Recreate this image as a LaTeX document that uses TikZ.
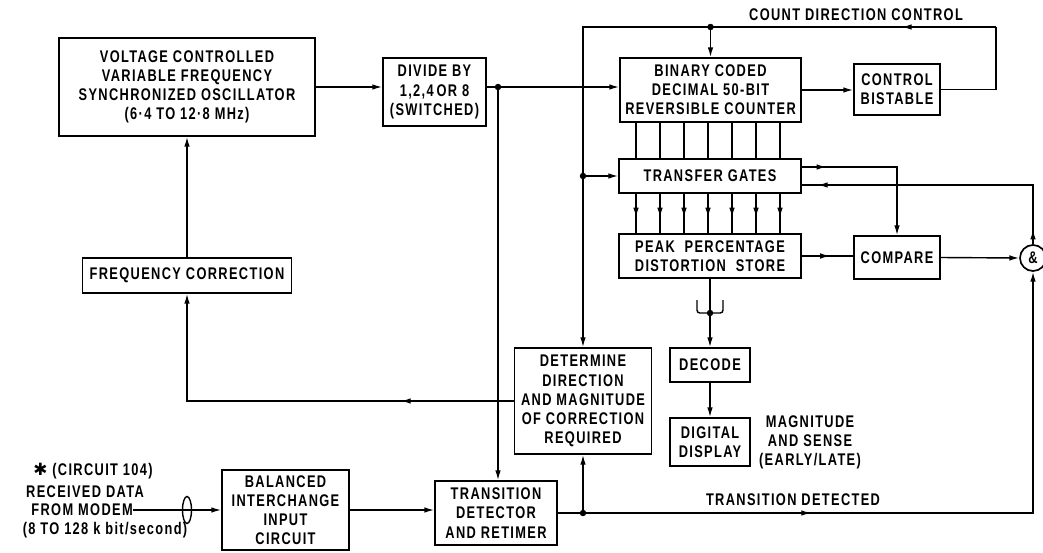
\documentclass[tikz,border=0pt]{standalone}
\usepackage{fontspec}
\setmainfont{Liberation Sans}[FakeStretch=0.76, LetterSpace=8]
\newfontfamily\symbfont{DejaVu Sans}
\usepackage{tikz}
\usetikzlibrary{arrows.meta, calc, shapes.geometric, decorations.markings}
\newcommand{\lettering}{\fontsize{12}{13.6}\selectfont\bfseries}
\newcommand{\jdot}[1]{\fill (#1) circle[radius=2.3pt];}
\tikzset{
  >={Latex[length=7pt,width=4pt]},
  blk/.style={draw, line width=1.2pt, inner sep=0pt, align=center, font=\lettering},
  lbl/.style={inner sep=0pt, align=center, font=\lettering},
  wire/.style={line width=1pt},
  midarr/.style={postaction={decorate, decoration={markings, mark=at position #1 with {\arrow{>}}}}},
}

\begin{document}
\begin{tikzpicture}[x=0.025cm, y=-0.025cm]
  \useasboundingbox (0,0) rectangle (1043,552);

  %% blocks
  \node[blk, minimum width=6.4cm, minimum height=2.45cm] (osc) at (187,87)
    {VOLTAGE CONTROLLED\\VARIABLE FREQUENCY\\SYNCHRONIZED OSCILLATOR\\(6·4 TO 12·8 MHz)};
  \node[blk, minimum width=2.575cm, minimum height=1.7cm] (div) at (434.5,92)
    {DIVIDE BY\\1,2,4\,OR 8\\(SWITCHED)};
  \node[blk, minimum width=4.525cm, minimum height=1.6cm] (cnt) at (710.5,90)
    {BINARY CODED\\DECIMAL 50-BIT\\REVERSIBLE COUNTER};
  \node[blk, minimum width=2.15cm, minimum height=1.275cm] (bist) at (897,89.5) {CONTROL\\BISTABLE};
  \node[blk, minimum width=4.55cm, minimum height=0.85cm] (tg) at (710,176) {TRANSFER GATES};
  \node[blk, minimum width=4.55cm, minimum height=1.1cm] (pk) at (710,256)
    {PEAK \ PERCENTAGE\\DISTORTION \ STORE};
  \node[blk, minimum width=2.15cm, minimum height=1.075cm] (cmp) at (897,257.5) {COMPARE};
  \node[blk, circle, minimum size=0.65cm] (andg) at (1033,258) {\&};
  \node[blk, minimum width=5.225cm, minimum height=0.875cm] (freq) at (187,275.5) {FREQUENCY CORRECTION};
  \node[blk, minimum width=3.425cm, minimum height=2.65cm] (det) at (583,401)
    {DETERMINE\\DIRECTION\\AND MAGNITUDE\\OF CORRECTION\\REQUIRED};
  \node[blk, minimum width=2cm, minimum height=0.85cm] (dec) at (710,365) {DECODE};
  \node[blk, minimum width=2cm, minimum height=1.2cm] (disp) at (710,442) {DIGITAL\\DISPLAY};
  \node[blk, minimum width=3.05cm, minimum height=1.6cm] (td) at (496,513)
    {TRANSITION\\DETECTOR\\AND RETIMER};
  \node[blk, minimum width=3.175cm, minimum height=2cm] (bal) at (285.5,510)
    {BALANCED\\INTERCHANGE\\INPUT\\CIRCUIT};
  \node[draw, line width=1pt, ellipse, inner sep=0pt, minimum width=0.225cm, minimum height=0.675cm] (plug) at (187,510) {};

  %% labels
  \node[lbl] (cdclbl) at (856,15) {COUNT DIRECTION CONTROL};
  \node[lbl] (tdlbl) at (793,500) {TRANSITION DETECTED};
  \node[lbl] (senselbl) at (810,442) {MAGNITUDE\\AND SENSE\\(EARLY/LATE)};
  \node[lbl, anchor=east] (modem) at (133,510) {FROM MODEM};
  \node[lbl] (recv) at (85,492) {RECEIVED DATA};
  \node[lbl] (circ) at (93,471) {{\symbfont ✱} (CIRCUIT 104)};
  \node[lbl] (rate) at (105,530) {(8 TO 128 k bit/second)};

  %% junctions
  \coordinate (tap) at (498,87);
  \coordinate (ret) at (996,27);
  \coordinate (cdc) at (cnt.north |- ret);
  \coordinate (tl) at (det.north |- ret);
  \coordinate (tgtap) at (det.north |- tg.west);
  \coordinate (ttap) at (det.south |- td.east);
  \coordinate (fk) at ($(pk.south)!0.5!(dec.north)$);

  %% oscillator and divider
  \draw[wire, ->] (osc.east) -- (osc.east -| div.west);
  \draw[wire] (div.east |- tap) -- (tap);
  \draw[wire, ->] (tap) -- (tap -| cnt.west);
  \draw[wire, ->] (tap) -- (tap |- td.north);

  %% count direction loop
  \draw[wire, ->] (cnt.east) -- (cnt.east -| bist.west);
  \draw[wire] (bist.east) -| (ret);
  \draw[wire, midarr=0.33] (ret) -- (cdc);
  \draw[wire, ->] (cdc) -- (tl) -- (det.north);
  \draw[wire, ->] (cdc) -- (cnt.north);
  \draw[wire, ->] (tgtap) -- (tg.west);

  %% parallel bits
  \foreach \xx in {636,660,684,708,732,756,780} {
    \coordinate (bit) at (\xx,0);
    \draw[wire] (cnt.south -| bit) -- (tg.north -| bit);
    \draw[wire, midarr=0.6] (tg.south -| bit) -- (pk.north -| bit);
  }

  %% compare and gate
  \draw[wire, ->, midarr=0.15] ($(tg.east)+(0,-9)$) -| (cmp.north);
  \draw[wire, midarr=0.05, midarr=0.945] (andg.north) |- ($(tg.east)+(0,9)$);
  \draw[wire, midarr=0.55] (pk.east) -- (pk.east -| cmp.west);
  \draw[wire, ->] (cmp.east) -- (andg.west);

  %% transition detector
  \draw[wire] (td.east) -- (ttap);
  \draw[wire, ->, midarr=0.33] (ttap) -| (andg.south);
  \draw[wire, ->] (ttap) -- (det.south);
  \draw[wire, ->, midarr=0.26] (det.west) -| (freq.south);
  \draw[wire, ->] (freq.north) -- (osc.south);

  %% decode and display
  \draw[wire, ->] (pk.south) -- (dec.north);
  \draw[wire, rounded corners=2pt] ($(fk)+(-13,-13)$) |- ($(fk)+(13,0)$) -- ($(fk)+(13,-13)$);
  \draw[wire, ->] (dec.south) -- (disp.north);

  %% input
  \draw[wire, ->] (modem.east) -- (bal.west);
  \draw[wire, ->] (bal.east) -- (bal.east -| td.west);

  \jdot{tap} \jdot{cdc} \jdot{tgtap} \jdot{ttap} \jdot{fk}
\end{tikzpicture}
\end{document}
